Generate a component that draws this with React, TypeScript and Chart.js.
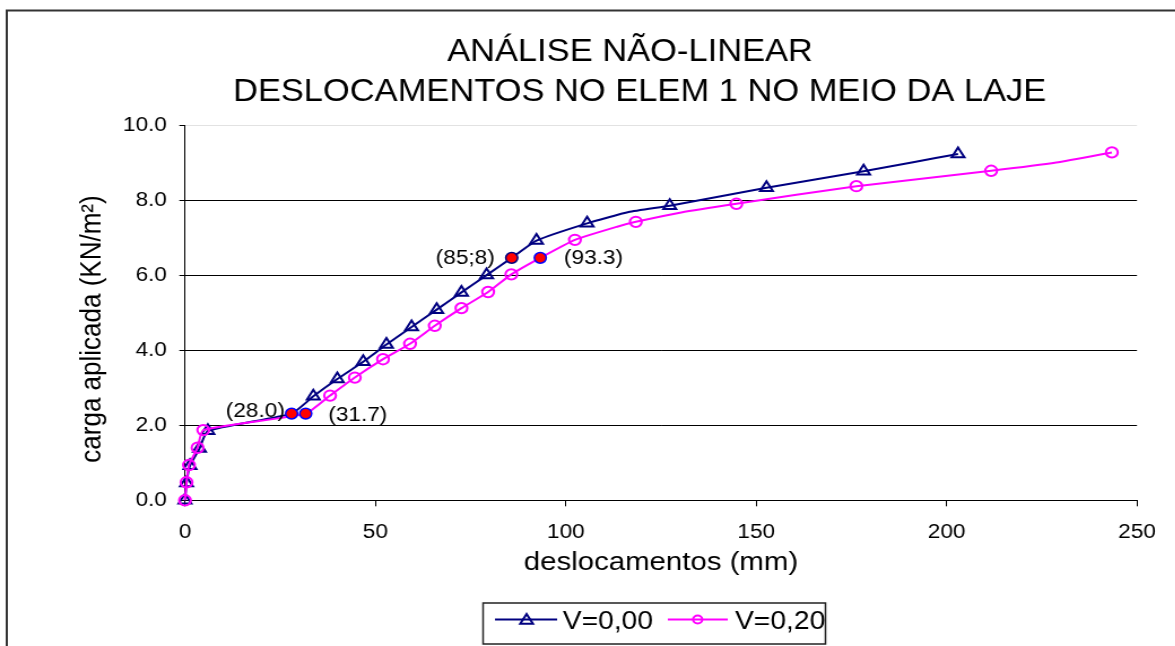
import React, { useEffect, useRef } from "react";
import { Chart, registerables } from "chart.js";

Chart.register(...registerables);

// ---------- text ----------
const TITLE_LINES = ["ANÁLISE NÃO-LINEAR", "DESLOCAMENTOS NO ELEM 1 NO MEIO DA LAJE"];
const X_TITLE = "deslocamentos (mm)";
const Y_TITLE = "carga aplicada (KN/m²)";
const SERIES_NAMES = ["V=0,00", "V=0,20"];

// ---------- ticks ----------
const X_TICKS = [0, 50, 100, 150, 200, 250];
const Y_TICKS = [0, 2, 4, 6, 8, 10];

// ---------- series V=0,00 (navy, triangles) ----------
const navyX = [0, 0.4, 1.3, 3.8, 6.0, 28.0, 33.7, 40.0, 46.8, 52.9, 59.5, 66.1, 72.6, 79.2, 85.8, 92.3, 105.6, 116.5, 127.3, 152.7, 178.2, 191.2, 203.0];
const navyY = [0, 0.46, 0.92, 1.38, 1.85, 2.31, 2.77, 3.23, 3.69, 4.15, 4.62, 5.08, 5.54, 6.0, 6.46, 6.92, 7.38, 7.68, 7.85, 8.33, 8.77, 9.01, 9.23];
const navyMarked = [1, 1, 1, 1, 1, 0, 1, 1, 1, 1, 1, 1, 1, 1, 0, 1, 1, 0, 1, 1, 1, 0, 1];

// ---------- series V=0,20 (magenta, circles) ----------
const pinkX = [0, 0.4, 1.05, 3.3, 4.8, 31.7, 38.1, 44.6, 52.0, 59.1, 65.6, 72.6, 79.6, 85.7, 93.3, 102.4, 113.5, 118.4, 130.3, 144.8, 176.3, 211.7, 228.8, 243.4];
const pinkY = [0, 0.48, 0.94, 1.4, 1.87, 2.31, 2.79, 3.27, 3.76, 4.17, 4.65, 5.12, 5.55, 6.02, 6.46, 6.94, 7.29, 7.42, 7.67, 7.9, 8.37, 8.78, 9.0, 9.27];
const pinkMarked = [1, 1, 1, 1, 1, 0, 1, 1, 1, 1, 1, 1, 1, 1, 0, 1, 0, 1, 0, 1, 1, 1, 0, 1];

// ---------- highlighted points ----------
const hlX = [28.0, 31.7, 85.8, 93.3];
const hlY = [2.31, 2.31, 6.46, 6.46];
const hlLabels = ["(28.0)", "(31.7)", "(85;8)", "(93.3)"];

// ---------- styles / layout ----------
const FONT = '"Liberation Sans", Arial, Helvetica, sans-serif';
const NAVY = "#000080";
const MAGENTA = "#ff00ff";
const S = 1.13; // horizontal stretch of the original picture
const W0 = 1135;
const H0 = 646;
const AREA = { left: 163.7, right: 1006.2, top: 125, bottom: 500.3 };
const HL_BORDERS = ["#0000ff", "#0000ff", "#000080", "#0000ff"];
const HL_LABEL_POS = [
  { dx: -6, dy: 3, align: "right" },
  { dx: 20, dy: 7, align: "left" },
  { dx: -15, dy: 6, align: "right" },
  { dx: 21, dy: 6, align: "left" },
];

const xy = (xs: number[], ys: number[]) => xs.map((x, i) => ({ x, y: ys[i] }));

function drawTriangle(ctx: CanvasRenderingContext2D, x: number, y: number, r: number) {
  ctx.beginPath();
  ctx.moveTo(x, y - r);
  ctx.lineTo(x + r * 0.866, y + r * 0.5);
  ctx.lineTo(x - r * 0.866, y + r * 0.5);
  ctx.closePath();
  ctx.stroke();
}

const decorPlugin = {
  id: "decor",
  beforeDraw(chart: any) {
    const ctx = chart.ctx;
    ctx.save();
    ctx.fillStyle = "#ffffff";
    ctx.fillRect(0, 0, chart.width, chart.height);
    ctx.restore();
  },
  afterDraw(chart: any) {
    const ctx: CanvasRenderingContext2D = chart.ctx;
    const xs = chart.scales.x;
    const ys = chart.scales.y;
    ctx.save();

    // outer frame
    ctx.strokeStyle = "#333333";
    ctx.lineWidth = 2;
    ctx.strokeRect(6, 10.5, chart.width + 40, chart.height + 40);

    // title
    ctx.fillStyle = "#000";
    ctx.font = `30.5px ${FONT}`;
    ctx.textAlign = "center";
    ctx.textBaseline = "alphabetic";
    ctx.fillText(TITLE_LINES[0], 557.5, 61);
    ctx.fillText(TITLE_LINES[1], 566, 101);

    // y axis title
    ctx.save();
    ctx.translate(81.4, 329);
    ctx.rotate(-Math.PI / 2);
    ctx.font = `26px ${FONT}`;
    ctx.textAlign = "center";
    ctx.textBaseline = "middle";
    ctx.fillText(Y_TITLE, 0, 0);
    ctx.restore();

    // highlighted point labels
    ctx.font = `20px ${FONT}`;
    ctx.textBaseline = "alphabetic";
    hlLabels.forEach((t, i) => {
      const p = HL_LABEL_POS[i];
      const px = xs.getPixelForValue(hlX[i]);
      const py = ys.getPixelForValue(hlY[i]);
      ctx.textAlign = p.align as CanvasTextAlign;
      ctx.fillText(t, px + p.dx, py + p.dy);
    });

    // legend
    ctx.strokeStyle = "#222";
    ctx.lineWidth = 1.5;
    ctx.strokeRect(427.5, 603, 303, 41);
    const ly = 619.5;
    ctx.lineWidth = 2;
    ctx.strokeStyle = NAVY;
    ctx.beginPath();
    ctx.moveTo(438, ly);
    ctx.lineTo(493, ly);
    ctx.stroke();
    drawTriangle(ctx, 466, ly + 1, 6.5);
    ctx.strokeStyle = MAGENTA;
    ctx.beginPath();
    ctx.moveTo(591, ly);
    ctx.lineTo(644, ly);
    ctx.stroke();
    ctx.beginPath();
    ctx.arc(617.4, ly, 4, 0, Math.PI * 2);
    ctx.stroke();
    ctx.fillStyle = "#000";
    ctx.font = `25px ${FONT}`;
    ctx.textAlign = "left";
    ctx.fillText(SERIES_NAMES[0], 498, 628.5);
    ctx.fillText(SERIES_NAMES[1], 650.4, 628.5);

    ctx.restore();
  },
};

export default function App() {
  const ref = useRef<HTMLCanvasElement>(null);

  useEffect(() => {
    const canvas = ref.current;
    if (!canvas) return;
    const chart = new Chart(canvas, {
      type: "line",
      data: {
        datasets: [
          {
            label: "destaque",
            data: xy(hlX, hlY),
            showLine: false,
            clip: false,
            pointStyle: "circle",
            pointRadius: 5.3,
            pointBackgroundColor: "#ff0000",
            pointBorderColor: HL_BORDERS,
            pointBorderWidth: 1.5,
          } as any,
          {
            label: SERIES_NAMES[1],
            data: xy(pinkX, pinkY),
            clip: false,
            borderColor: MAGENTA,
            borderWidth: 2,
            tension: 0.15,
            pointStyle: "circle",
            pointRadius: (c: any) => (pinkMarked[c.dataIndex] ? 5.2 : 0),
            pointBorderColor: MAGENTA,
            pointBackgroundColor: "rgba(0,0,0,0)",
            pointBorderWidth: 2,
          } as any,
          {
            label: SERIES_NAMES[0],
            data: xy(navyX, navyY),
            clip: false,
            borderColor: NAVY,
            borderWidth: 2,
            tension: 0.15,
            pointStyle: "triangle",
            pointRadius: (c: any) => (navyMarked[c.dataIndex] ? 6.5 : 0),
            pointBorderColor: NAVY,
            pointBackgroundColor: "rgba(0,0,0,0)",
            pointBorderWidth: 2,
          } as any,
        ],
      },
      options: {
        animation: false,
        responsive: false,
        devicePixelRatio: 1,
        events: [],
        layout: {
          padding: {
            left: 0,
            top: AREA.top,
            right: W0 - AREA.right,
            bottom: H0 - AREA.bottom - 80,
          },
        },
        plugins: {
          legend: { display: false },
          title: { display: false },
          tooltip: { enabled: false },
        },
        scales: {
          x: {
            type: "linear",
            min: X_TICKS[0],
            max: X_TICKS[X_TICKS.length - 1],
            afterBuildTicks: (s: any) => {
              s.ticks = X_TICKS.map((v) => ({ value: v }));
            },
            afterFit: (s: any) => {
              s.height = 80;
            },
            grid: {
              drawOnChartArea: false,
              drawTicks: true,
              tickLength: 6,
              tickColor: "#000",
              tickWidth: 1,
            },
            border: { display: true, color: "#000", width: 1 },
            ticks: {
              font: { size: 20, family: FONT },
              color: "#000",
              padding: 14,
              maxRotation: 0,
              autoSkip: false,
            },
            title: {
              display: true,
              text: X_TITLE,
              color: "#000",
              font: { size: 26, family: FONT },
              padding: { top: 0, bottom: 2 },
            },
          },
          y: {
            type: "linear",
            min: Y_TICKS[0],
            max: Y_TICKS[Y_TICKS.length - 1],
            afterBuildTicks: (s: any) => {
              s.ticks = Y_TICKS.map((v) => ({ value: v }));
            },
            afterFit: (s: any) => {
              s.width = AREA.left;
            },
            grid: {
              color: (c: any) => (c.tick && c.tick.value === Y_TICKS[Y_TICKS.length - 1] ? "#e2e2e2" : "#000"),
              tickColor: "#000",
              tickLength: 5,
              lineWidth: 1,
            },
            border: { display: true, color: "#000", width: 1 },
            ticks: {
              font: { size: 20, family: FONT },
              color: "#000",
              padding: 11,
              callback: (v: any) => Number(v).toFixed(1),
            },
            title: { display: false },
          },
        },
      },
      plugins: [decorPlugin],
    } as any);
    return () => chart.destroy();
  }, []);

  return (
    <div
      style={{
        position: "fixed",
        left: 0,
        top: 0,
        width: 1175,
        height: 646,
        overflow: "hidden",
        background: "#fff",
      }}
    >
      <div style={{ width: W0, height: H0, transform: `scaleX(${S})`, transformOrigin: "0 0" }}>
        <canvas ref={ref} width={W0} height={H0} style={{ display: "block", width: W0, height: H0 }} />
      </div>
    </div>
  );
}
